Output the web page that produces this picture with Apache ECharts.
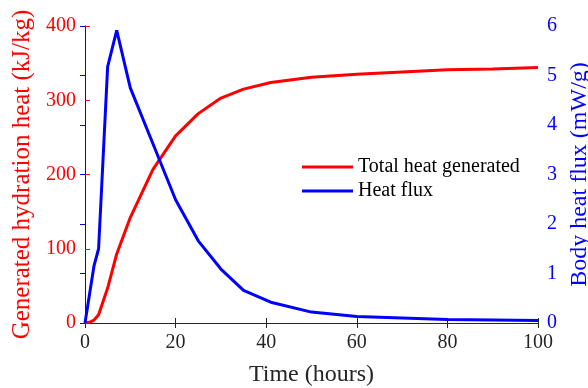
<!DOCTYPE html>
<html>
<head>
<meta charset="utf-8">
<script src="https://cdn.jsdelivr.net/npm/echarts@6/dist/echarts.min.js"></script>
<style>html,body{margin:0;padding:0;background:#fff}#c{width:588px;height:388px}</style>
</head>
<body>
<div id="c"></div>
<script>
const xTicks = [0, 20, 40, 60, 80, 100];
const heatTime = [0, 1, 2, 3, 5, 7, 10, 15, 20, 25, 30, 35, 41, 50, 60, 70, 80, 90, 100];
const heatTotal = [0, 1, 4, 11, 47, 93, 142, 207, 252, 282, 303, 315, 324, 331, 335, 338, 341, 342, 344];
const fluxTime = [0, 2, 3, 5, 7, 10, 15, 20, 25, 30, 35, 41, 50, 60, 70, 80, 90, 100];
const fluxVal = [0, 1.16, 1.5, 5.18, 5.91, 4.75, 3.62, 2.49, 1.66, 1.09, 0.66, 0.42, 0.22, 0.13, 0.1, 0.07, 0.06, 0.05];
const seriesNames = ['Total heat generated', 'Heat flux'];

const FONT = 'Liberation Serif';
const chart = echarts.init(document.getElementById('c'));
chart.setOption({
  animation: false,
  backgroundColor: '#fff',
  grid: {left: 85, right: 50, top: 26, bottom: 65, containLabel: false, outerBoundsMode: 'none'},
  legend: {
    orient: 'vertical', left: 297, top: 152, itemWidth: 51, itemHeight: 3, itemGap: 4,
    icon: 'rect',
    textStyle: {fontFamily: FONT, fontSize: 20, color: '#000'},
    data: seriesNames
  },
  xAxis: [{
    type: 'value', min: 0, max: 100, interval: 20,
    name: 'Time (hours)', nameLocation: 'middle', nameGap: 40,
    nameTextStyle: {fontFamily: FONT, fontSize: 24, color: '#262626'},
    axisLine: {lineStyle: {color: '#262626', width: 1}},
    axisTick: {inside: true, length: 5, lineStyle: {color: '#262626'}},
    axisLabel: {fontFamily: FONT, fontSize: 20, color: '#262626', margin: 10, formatter: v => xTicks.includes(v) ? String(v) : ''},
    splitLine: {show: false}
  }, {
    type: 'value', min: 0, max: 100, interval: 20, position: 'top',
    axisLine: {lineStyle: {color: '#262626', width: 1}},
    axisTick: {inside: true, length: 5, lineStyle: {color: '#262626'}},
    axisLabel: {show: false}, splitLine: {show: false}
  }],
  yAxis: [{
    type: 'value', min: 0, max: 400, interval: 100, position: 'left',
    name: 'Generated hydration heat (kJ/kg)', nameLocation: 'middle', nameGap: 50, nameRotate: 90,
    nameTextStyle: {fontFamily: FONT, fontSize: 25, color: '#ff0000'},
    axisLine: {show: true, lineStyle: {color: '#ff0000', width: 1}},
    axisTick: {inside: true, length: 5, lineStyle: {color: '#ff0000'}},
    axisLabel: {fontFamily: FONT, fontSize: 20, color: '#ff0000', margin: 9},
    splitLine: {show: false}
  }, {
    type: 'value', min: 0, max: 6, interval: 1, position: 'right',
    name: 'Body heat flux (mW/g)', nameLocation: 'middle', nameGap: 29, nameRotate: 90,
    nameTextStyle: {fontFamily: FONT, fontSize: 24, color: '#0000ff'},
    axisLine: {show: true, lineStyle: {color: '#0000ff', width: 1}},
    axisTick: {inside: true, length: 5, lineStyle: {color: '#0000ff'}},
    axisLabel: {fontFamily: FONT, fontSize: 20, color: '#0000ff', margin: 9},
    splitLine: {show: false}
  }],
  series: [{
    name: seriesNames[0], type: 'line', xAxisIndex: 0, yAxisIndex: 0,
    symbol: 'none', lineStyle: {color: '#ff0000', width: 3}, itemStyle: {color: '#ff0000'},
    data: heatTime.map((t, i) => [t, heatTotal[i]])
  }, {
    name: seriesNames[1], type: 'line', xAxisIndex: 0, yAxisIndex: 1,
    symbol: 'none', lineStyle: {color: '#0000ff', width: 3}, itemStyle: {color: '#0000ff'},
    data: fluxTime.map((t, i) => [t, fluxVal[i]])
  }]
});
</script>
</body>
</html>
